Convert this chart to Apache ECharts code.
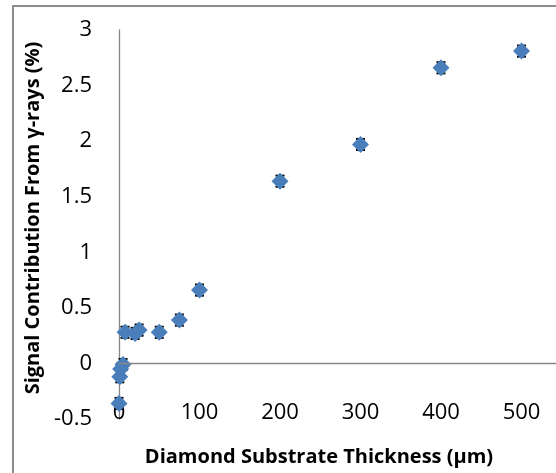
<!DOCTYPE html>
<html>
<head>
<meta charset="utf-8">
<script src="https://cdn.jsdelivr.net/npm/echarts@6/dist/echarts.min.js"></script>
<style>
	html, body { margin: 0; padding: 0; background: #fff; overflow: hidden; }
	#chart { width: 640px; height: 473px; }
</style>
</head>
<body>
<div id="chart"></div>
<script>
	// thickness (um) and signal contribution (%)
	const thickness = [0, 1, 2, 5, 7.5, 20, 25, 50, 75, 100, 200, 300, 400, 500]
	const signal = [-0.36, -0.12, -0.05, -0.01, 0.28, 0.27, 0.3, 0.28, 0.39, 0.66, 1.64, 1.97, 2.66, 2.81]
	const errors = [0.05, 0.05, 0.05, 0.05, 0.05, 0.05, 0.05, 0.05, 0.05, 0.05, 0.05, 0.05, 0.05, 0.05]
	const xTicks = [0, 100, 200, 300, 400, 500]

	const points = thickness.map((t, i) => [t, signal[i]])
	const bars = thickness.map((t, i) => [t, signal[i] - errors[i], signal[i] + errors[i]])

	// the page is cropped on the right, the plot runs on past 500
	const mychart = echarts.init(document.getElementById('chart'))
	const font = '"Open Sans", sans-serif'
	mychart.setOption({
		animation: false,
		grid: { left: 119, right: 38, top: 30, bottom: 54 },
		xAxis: {
			type: 'value',
			min: 0,
			max: 600,
			interval: 100,
			axisLine: { show: false },
			axisTick: { show: false },
			splitLine: { show: false },
			axisLabel: {
				color: '#000',
				fontSize: 22,
				fontFamily: font,
				margin: -17,
				formatter: (v) => (xTicks.includes(v) ? String(v) : ''),
			},
		},
		yAxis: {
			type: 'value',
			min: -0.5,
			max: 3,
			interval: 0.5,
			axisLine: { show: true, lineStyle: { color: '#868686', width: 1.3 } },
			axisTick: { show: false },
			splitLine: { show: false },
			axisLabel: { color: '#000', fontSize: 22, fontFamily: font, margin: 27 },
		},
		graphic: [
			{
				type: 'rect',
				shape: { x: 13, y: 6, width: 800, height: 700 },
				style: { fill: 'none', stroke: '#8c8c8c', lineWidth: 2 },
				silent: true,
			},
			{
				type: 'text',
				x: 319,
				y: 457,
				style: {
					text: 'Diamond Substrate Thickness (μm)',
					font: 'bold 20px "Open Sans", sans-serif',
					fill: '#000',
					align: 'center',
					verticalAlign: 'middle',
				},
			},
			{
				type: 'text',
				x: 33,
				y: 218,
				rotation: Math.PI / 2,
				style: {
					text: 'Signal Contribution From γ-rays (%)',
					font: 'bold 20px "Open Sans", sans-serif',
					fill: '#000',
					align: 'center',
					verticalAlign: 'middle',
				},
			},
		],
		series: [
			{
				type: 'custom',
				data: bars,
				z: 1,
				renderItem: function (params, api) {
					const lo = api.coord([api.value(0), api.value(1)])
					const hi = api.coord([api.value(0), api.value(2)])
					const w = 4.5
					const style = { stroke: '#000', lineWidth: 2 }
					return {
						type: 'group',
						children: [
							{ type: 'line', shape: { x1: lo[0] - w, y1: lo[1], x2: lo[0] + w, y2: lo[1] }, style },
							{ type: 'line', shape: { x1: hi[0] - w, y1: hi[1], x2: hi[0] + w, y2: hi[1] }, style },
						],
					}
				},
			},
			{
				type: 'scatter',
				data: points,
				z: 3,
				symbol: 'diamond',
				symbolSize: [17, 17],
				itemStyle: { color: '#4a7ebb', opacity: 1 },
				markLine: {
					silent: true,
					symbol: 'none',
					label: { show: false },
					lineStyle: { color: '#868686', width: 1.3, type: 'solid' },
					data: [{ yAxis: 0 }],
				},
			},
		],
	})
</script>
</body>
</html>
